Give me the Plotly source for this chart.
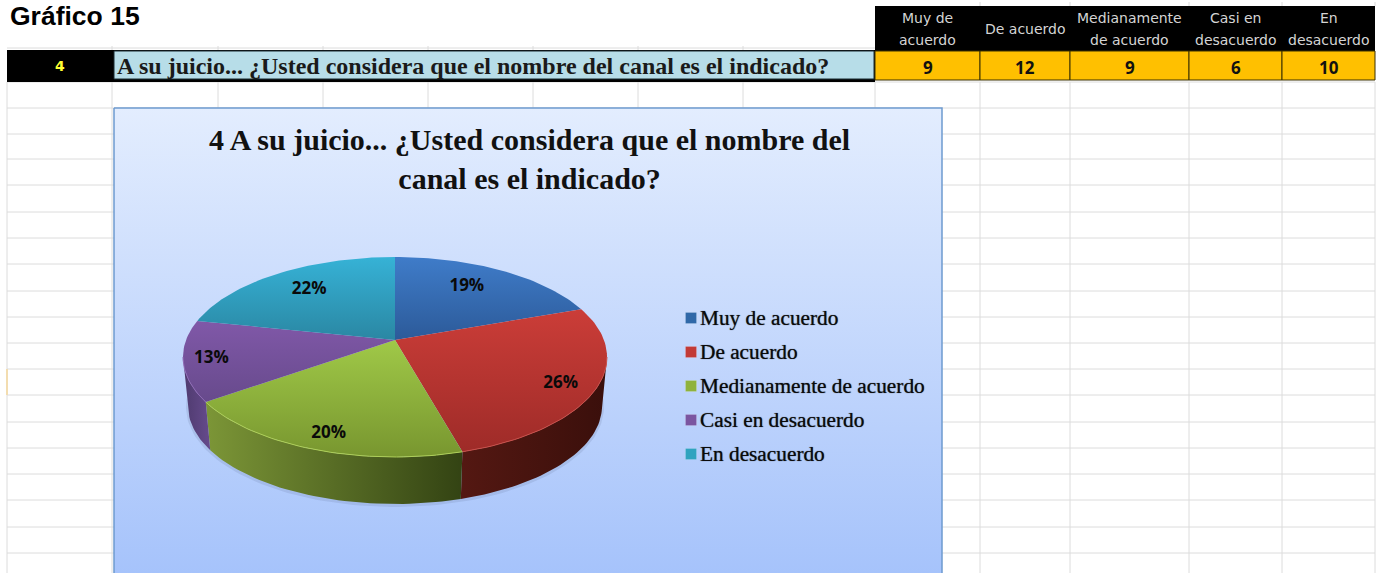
import math
import plotly.graph_objects as go

# ---- data ----
categories = ["Muy de acuerdo", "De acuerdo", "Medianamente de acuerdo", "Casi en desacuerdo", "En desacuerdo"]
header_labels = [["Muy de", "acuerdo"], ["De acuerdo"], ["Medianamente", "de acuerdo"], ["Casi en", "desacuerdo"], ["En", "desacuerdo"]]
values = [9, 12, 9, 6, 10]
pct_labels = ["19%", "26%", "20%", "13%", "22%"]
question = "A su juicio... ¿Usted considera que el nombre del canal es el indicado?"
chart_title = "4 A su juicio... ¿Usted considera que el nombre del<br>canal es el indicado?"
sheet_title = "Gráfico 15"
row_number = "4"

# ---- styles ----
top_colors = [("#3F7CC9", "#2C5A99"), ("#CB3D38", "#9E2B28"), ("#A0C948", "#78962F"),
              ("#8058A8", "#674A8C"), ("#36B2D6", "#2A87A3")]
wall_colors = [None, ("#541812", "#3A0F0B"), ("#7C9637", "#334313"), ("#4E3A6E", "#664B8C"), None]
legend_colors = ["#2F68A8", "#C23A36", "#8FB23C", "#7B55A0", "#2FA3BF"]
label_r = [0.734, 0.84, 0.86, 0.87, 0.75]
label_dtheta = [-4, 1, -1, 0.5, 2]
LABEL_DY = 2

W, H = 1382, 573
CX, CY, RX, RY, APEX = 395, 357, 212, 100, 17
PERSP = APEX / RY
BCY, BRX, BRY = 406, 207, 98
FONT_SERIF = "Liberation Serif"


def project(theta, r=1.0):
    """Circle point (clockwise from top, degrees) -> perspective-projected ellipse."""
    u, v = r * math.sin(math.radians(theta)), r * math.cos(math.radians(theta))
    den = 1 + PERSP * v
    k = RX * math.sqrt(1 - PERSP ** 2)
    return CX + k * u / den, CY - (RY * v + APEX) / den


def project_bottom(theta):
    x, y = project(theta)
    return CX + (x - CX) * BRX / RX, BCY + (y - CY) * BRY / RY


def arange(a, b, step=1.5):
    n = max(2, int(abs(b - a) / step) + 1)
    return [a + (b - a) * i / (n - 1) for i in range(n)]


fig = go.Figure()
shapes, annotations = [], []


def rect(x0, y0, x1, y1, fill, line=None, lw=0):
    shapes.append(dict(type="rect", xref="x", yref="y", x0=x0, y0=y0, x1=x1, y1=y1,
                       fillcolor=fill, line=dict(color=line or fill, width=lw), layer="below"))


def hline(y, x0, x1, c="#DCDCDC", w=1):
    shapes.append(dict(type="line", xref="x", yref="y", x0=x0, x1=x1, y0=y, y1=y,
                       line=dict(color=c, width=w), layer="below"))


def vline(x, y0, y1, c="#DCDCDC", w=1):
    shapes.append(dict(type="line", xref="x", yref="y", x0=x, x1=x, y0=y0, y1=y1,
                       line=dict(color=c, width=w), layer="below"))


def text(x, y, s, size, family, color="#000", bold=False, xanchor="center", align="center", shadow=None):
    font = dict(size=size, family=family, color=color)
    if shadow:
        font["shadow"] = shadow
    annotations.append(dict(xref="x", yref="y", x=x, y=y, text=f"<b>{s}</b>" if bold else s,
                            showarrow=False, xanchor=xanchor, yanchor="middle", align=align,
                            font=font, borderpad=0, borderwidth=0))


# ---- spreadsheet grid ----
row_ys = [82, 108, 134, 159, 185, 212, 238, 264, 291, 317, 343, 369, 395, 422, 448, 474, 500, 527, 553]
col_xs = [7, 112, 875, 980, 1070, 1189, 1282, 1375]
for y in row_ys:
    hline(y, 7, 1375)
for x in col_xs:
    vline(x, 82, 573)
for x in [218, 323, 428, 533, 638, 743]:
    vline(x, 82, 108)
    vline(x, 46, 50)
vline(112, 46, 50)
hline(48, 7, 875, "#DCDCDC", 1)
for x in col_xs[3:]:
    vline(x, 2, 6)
shapes.append(dict(type="rect", xref="x", yref="y", x0=6, x1=8, y0=369, y1=395,
                   fillcolor="#F3DDB0", line=dict(width=0), layer="below"))

# ---- table ----
rect(875, 6, 1375, 51, "#000000")
rect(7, 50, 875, 82, "#000000")
rect(114, 51, 874, 79, "#B7DDE8", "#1A2A30", 1)
cell_edges = col_xs[2:]
for i, v in enumerate(values):
    rect(cell_edges[i], 51, cell_edges[i + 1], 80, "#FFC000", "#3A3000", 1)
    mid = (cell_edges[i] + cell_edges[i + 1]) / 2
    text(mid, 67, str(v), 17, "Noto Sans", "#111111", True)
    head = header_labels[i]
    if len(head) == 1:
        text(mid, 29, head[0], 14, "DejaVu Sans", "#D4D4D4")
    else:
        text(mid, 18, head[0], 14, "DejaVu Sans", "#D4D4D4")
        text(mid, 40, head[1], 14, "DejaVu Sans", "#D4D4D4")
text(60, 66, row_number, 14, "DejaVu Sans", "#FFFF33", True)
text(117, 66, question, 24, FONT_SERIF, "#1A1A1A", True, "left")
text(10, 15.5, sheet_title, 26.5, "Liberation Sans", "#000", True, "left")

# ---- chart panel (gradient background) ----
fig.add_trace(go.Scatter(x=[114, 942, 942, 114, 114], y=[108, 108, 590, 590, 108], mode="lines",
                         fill="toself", line=dict(color="#6D9BCF", width=1.5), hoverinfo="skip",
                         fillgradient=dict(type="vertical", start=108, stop=573,
                                           colorscale=[[0, "#E3EDFE"], [1, "#A6C3FB"]]),
                         showlegend=False))

# ---- pie geometry from the values ----
total = sum(values)
bounds = [0.0]
for v in values:
    bounds.append(bounds[-1] + 360.0 * v / total)

# soft shadow under the pie
sx, sy = [], []
for t in arange(95, 265):
    x, y = project_bottom(t)
    sx.append(x)
    sy.append(y + 1)
fig.add_trace(go.Scatter(x=sx, y=sy, mode="lines", line=dict(color="rgba(40,50,80,0.10)", width=4),
                         hoverinfo="skip", showlegend=False))

# side walls (only the part facing the viewer)
VIS0 = math.degrees(math.acos(-PERSP))
VIS1 = 360 - VIS0
for i in range(len(values)):
    if wall_colors[i] is None:
        continue
    a, b = max(bounds[i], VIS0), min(bounds[i + 1], VIS1)
    if a >= b:
        continue
    ts = arange(a, b)
    top = [project(t) for t in ts]
    bot = [project_bottom(t) for t in reversed(ts)]
    pts = top + bot + top[:1]
    xs = [p[0] for p in pts]
    fig.add_trace(go.Scatter(x=xs, y=[p[1] for p in pts], mode="lines", fill="toself",
                             line=dict(width=0), hoverinfo="skip", showlegend=False,
                             fillgradient=dict(type="horizontal", start=min(xs), stop=max(xs),
                                               colorscale=[[0, wall_colors[i][0]], [1, wall_colors[i][1]]])))

# top faces
apex = project(0, 0)
for i, name in enumerate(categories):
    pts = [apex] + [project(t) for t in arange(bounds[i], bounds[i + 1])] + [apex]
    ys = [p[1] for p in pts]
    fig.add_trace(go.Scatter(x=[p[0] for p in pts], y=ys, mode="lines", fill="toself", name=name,
                             line=dict(width=0), hoverinfo="name", showlegend=False,
                             fillgradient=dict(type="vertical", start=min(ys), stop=max(ys),
                                               colorscale=[[0, top_colors[i][0]], [1, top_colors[i][1]]])))
# rim highlight on the lower arc
rim_colors = [None, "#C9504A", "#AECF58", "#8F6BB5", None]
for i in range(len(values)):
    if rim_colors[i] is None:
        continue
    a, b = max(bounds[i], VIS0), min(bounds[i + 1], VIS1)
    pts = [project(t) for t in arange(a, b)]
    fig.add_trace(go.Scatter(x=[p[0] for p in pts], y=[p[1] for p in pts], mode="lines",
                             line=dict(color=rim_colors[i], width=1), hoverinfo="skip", showlegend=False))

# percentage labels
lab = [project((bounds[i] + bounds[i + 1]) / 2 + label_dtheta[i], label_r[i]) for i in range(len(values))]
fig.add_trace(go.Scatter(x=[p[0] for p in lab], y=[p[1] + LABEL_DY for p in lab], mode="text", text=pct_labels,
                         textposition="middle center", hoverinfo="skip", showlegend=False,
                         textfont=dict(size=17, family="Open Sans", color="#0A0A0A", weight=700)))

# legend
legend_ys = [318, 352, 386, 420, 454]
fig.add_trace(go.Scatter(x=[691] * 5, y=legend_ys, mode="markers", hoverinfo="skip", showlegend=False,
                         marker=dict(symbol="square", size=11, color=legend_colors,
                                     line=dict(color="rgba(255,255,255,0.3)", width=0.5))))
for y, c in zip(legend_ys, categories):
    text(700, y, c, 21.3, FONT_SERIF, "#0A0A0A", False, "left", shadow="0 0 1px rgba(0,0,0,0.7)")

# chart title
text(529, 159, chart_title, 30, FONT_SERIF, "#111111", True)

fig.update_layout(
    width=W, height=H, autosize=False, margin=dict(l=0, r=0, t=0, b=0),
    paper_bgcolor="#FFFFFF", plot_bgcolor="#FFFFFF", showlegend=False,
    xaxis=dict(range=[0, W], visible=False, fixedrange=True),
    yaxis=dict(range=[H, 0], visible=False, fixedrange=True),
    shapes=shapes, annotations=annotations,
)
fig.write_html("out.html", config=dict(displayModeBar=False),
               post_script="document.body.style.margin='0';document.body.style.overflow='hidden';")
